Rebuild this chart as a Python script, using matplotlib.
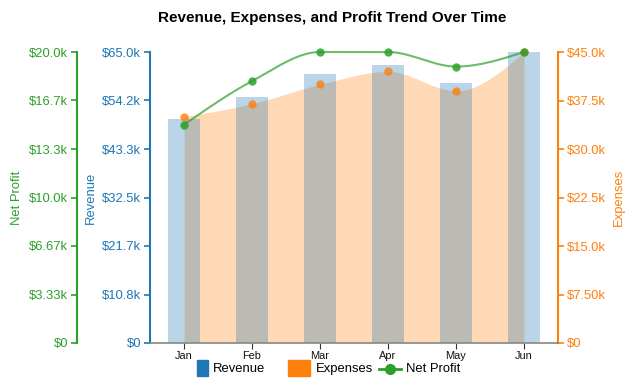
import numpy as np
import matplotlib
matplotlib.use('Agg')
import matplotlib.pyplot as plt
from matplotlib.patches import Rectangle
from matplotlib.lines import Line2D

months = ['Jan', 'Feb', 'Mar', 'Apr', 'May', 'Jun']
revenue = [50000, 55000, 60000, 62000, 58000, 65000]
expenses = [35000, 37000, 40000, 42000, 39000, 45000]
net_profit = [15000, 18000, 20000, 20000, 19000, 20000]

revenue_ticks = [0, 10833.33, 21666.67, 32500, 43333.33, 54166.67, 65000]
expense_ticks = [0, 7500, 15000, 22500, 30000, 37500, 45000]
profit_ticks = [0, 3333.33, 6666.67, 10000, 13333.33, 16666.67, 20000]

BLUE = '#1f77b4'
ORANGE = '#ff7f0e'
GREEN = '#2ca02c'

plt.rcParams['font.family'] = ['Liberation Sans', 'DejaVu Sans']


def fmt_k(v):
    if v == 0:
        return '$0'
    k = v / 1000.0
    if k < 10:
        s = f'{k:.2f}'
    elif k < 100:
        s = f'{k:.1f}'
    else:
        s = f'{k:.0f}'
    return f'${s}k'


def monotone_curve(x, y, n=40):
    x = np.asarray(x, float)
    y = np.asarray(y, float)
    m = len(x)
    t = np.zeros(m)
    for i in range(1, m - 1):
        h0 = x[i] - x[i - 1]
        h1 = x[i + 1] - x[i]
        s0 = (y[i] - y[i - 1]) / h0
        s1 = (y[i + 1] - y[i]) / h1
        p = (s0 * h1 + s1 * h0) / (h0 + h1)
        t[i] = (np.sign(s0) + np.sign(s1)) * min(abs(s0), abs(s1), 0.5 * abs(p))
    t[0] = (3 * (y[1] - y[0]) / (x[1] - x[0]) - t[1]) / 2
    t[-1] = (3 * (y[-1] - y[-2]) / (x[-1] - x[-2]) - t[-2]) / 2
    xs, ys = [], []
    for i in range(m - 1):
        dx = x[i + 1] - x[i]
        u = np.linspace(0, 1, n, endpoint=(i == m - 2))
        h00 = 2 * u**3 - 3 * u**2 + 1
        h10 = u**3 - 2 * u**2 + u
        h01 = -2 * u**3 + 3 * u**2
        h11 = u**3 - u**2
        xs.append(x[i] + u * dx)
        ys.append(h00 * y[i] + h10 * dx * t[i] + h01 * y[i + 1] + h11 * dx * t[i + 1])
    return np.concatenate(xs), np.concatenate(ys)


W, H = 640, 389
fig = plt.figure(figsize=(W / 100, H / 100), dpi=100, facecolor='white')
L, R, T, B = 150, 558, 52, 343
ax = fig.add_axes([L / W, (H - B) / H, (R - L) / W, (B - T) / H])
ax2 = ax.twinx()
ax3 = ax.twinx()

# layering: area (ax2) below bars (ax) below dots/line (ax3)
ax2.set_zorder(0)
ax.set_zorder(1)
ax3.set_zorder(2)
ax.patch.set_visible(False)
ax2.patch.set_visible(False)
ax3.patch.set_visible(False)

x = np.arange(len(months))

# Revenue bars
ax.bar(x, revenue, width=0.47, color=BLUE, alpha=0.3, zorder=2)
ax.set_xlim(-0.5, len(months) - 0.5)
ax.set_ylim(0, 65000)

# Expenses area
ax2.set_ylim(0, 45000)
cx, cy = monotone_curve(x, expenses)
ax2.fill_between(cx, 0, cy, color=ORANGE, alpha=0.3, linewidth=0)

# Net profit line + dots, expenses dots (on top)
ax3.set_ylim(0, 20000)
ax3.plot(x, expenses, 'o', color=ORANGE, markersize=6, alpha=0.8, markeredgewidth=0,
         transform=ax2.transData, clip_on=False)
px, py = monotone_curve(x, net_profit)
ax3.plot(px, py, color=GREEN, lw=1.5, alpha=0.7, clip_on=False)
ax3.plot(x, net_profit, 'o', color=GREEN, markersize=6, alpha=0.85, markeredgewidth=0,
         clip_on=False)

fs = 9.4
# main axis styling
ax.set_xticks(x)
ax.set_xticklabels(months, fontsize=7.9, color='#111111')
ax.tick_params(axis='x', length=4.3, width=0.8, color='#333333', pad=1.5)
ax.spines['bottom'].set_color('#888888')
ax.spines['bottom'].set_linewidth(1.2)
for a in (ax, ax2, ax3):
    a.spines['top'].set_visible(False)

ax.spines['right'].set_visible(False)
ax.spines['left'].set_color(BLUE)
ax.spines['left'].set_linewidth(1.5)
ax.set_yticks(revenue_ticks)
ax.set_yticklabels([fmt_k(v) for v in revenue_ticks], fontsize=fs, color=BLUE)
ax.tick_params(axis='y', length=4.3, width=1.2, color=BLUE, pad=2)
ax.set_ylabel('Revenue', fontsize=fs, color=BLUE)
ax.yaxis.set_label_coords((97 - L) / (R - L), 0.5)

ax2.spines['left'].set_visible(False)
ax2.spines['bottom'].set_visible(False)
ax2.spines['right'].set_color(ORANGE)
ax2.spines['right'].set_linewidth(1.5)
ax2.set_yticks(expense_ticks)
ax2.set_yticklabels([fmt_k(v) for v in expense_ticks], fontsize=fs, color=ORANGE)
ax2.tick_params(axis='y', length=4.3, width=1.2, color=ORANGE, pad=2)
ax2.set_ylabel('Expenses', fontsize=fs, color=ORANGE)
ax2.yaxis.set_label_coords((613 - L) / (R - L), 0.5)

ax3.spines['right'].set_visible(False)
ax3.spines['bottom'].set_visible(False)
ax3.spines['left'].set_visible(True)
ax3.spines['left'].set_position(('outward', 73 * 0.72))
ax3.spines['left'].set_color(GREEN)
ax3.spines['left'].set_linewidth(1.5)
ax3.yaxis.set_ticks_position('left')
ax3.yaxis.set_label_position('left')
ax3.set_yticks(profit_ticks)
ax3.set_yticklabels([fmt_k(v) for v in profit_ticks], fontsize=fs, color=GREEN)
ax3.tick_params(axis='y', length=4.3, width=1.2, color=GREEN, pad=2)
ax3.set_ylabel('Net Profit', fontsize=fs, color=GREEN)
ax3.yaxis.set_label_coords((23 - L) / (R - L), 0.5)

# Title
fig.text(332 / W, 1 - 18 / H, 'Revenue, Expenses, and Profit Trend Over Time',
         ha='center', va='center', fontsize=11, fontweight='bold', color='black')

# Legend (manual)
def fx(px_):
    return px_ / W

def fy(py_):
    return 1 - py_ / H

fig.patches.append(Rectangle((fx(197), fy(376)), 11 / W, 16 / H, transform=fig.transFigure,
                             color=BLUE, figure=fig))
fig.text(fx(213), fy(369), 'Revenue', ha='left', va='center', fontsize=fs)
fig.patches.append(Rectangle((fx(288), fy(376)), 22 / W, 16 / H, transform=fig.transFigure,
                             color=ORANGE, figure=fig))
fig.text(fx(316), fy(369), 'Expenses', ha='left', va='center', fontsize=fs)
fig.lines.append(Line2D([fx(379), fx(401)], [fy(369), fy(369)], transform=fig.transFigure,
                        color=GREEN, lw=2, figure=fig))
fig.lines.append(Line2D([fx(390)], [fy(369)], transform=fig.transFigure, marker='o',
                        markersize=7, color=GREEN, figure=fig))
fig.text(fx(406), fy(369), 'Net Profit', ha='left', va='center', fontsize=fs)

fig.savefig('out.png', dpi=100, facecolor='white')
